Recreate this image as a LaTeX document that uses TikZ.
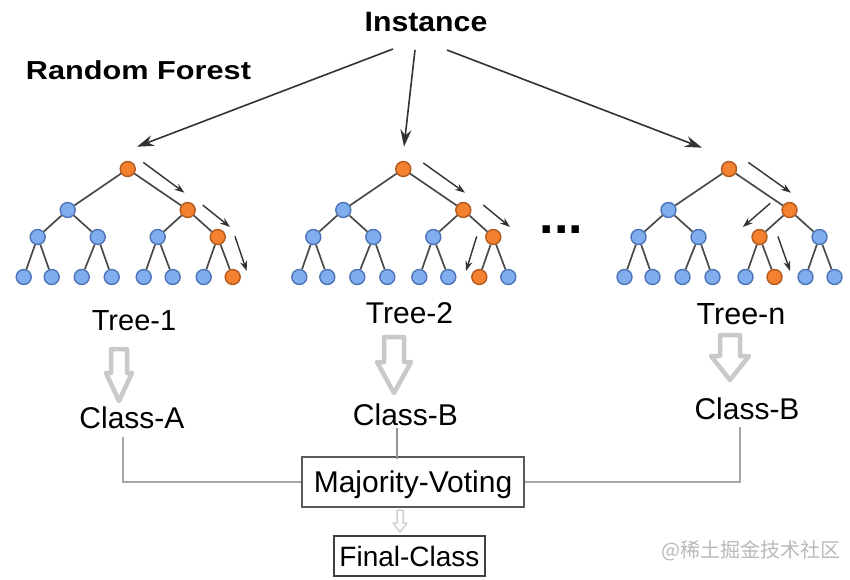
\documentclass[tikz,border=0pt]{standalone}
\usepackage{fontspec}
\usepackage{graphicx}
\setmainfont{Liberation Sans}
\newfontfamily\cjkfont{Noto Sans CJK SC}
\usetikzlibrary{arrows.meta}
\definecolor{orfill}{HTML}{F4812F}
\definecolor{ordraw}{HTML}{B35A1F}
\definecolor{blfill}{HTML}{80ADED}
\definecolor{bldraw}{HTML}{4D74B8}
\definecolor{edgec}{HTML}{4A4A4A}
\definecolor{blockc}{HTML}{C9C9C9}
\newcommand\fs[1]{\fontsize{#1}{#1}\selectfont}
\tikzset{
  tn/.style={circle, minimum size=15pt, inner sep=0pt, line width=1.4pt, draw=bldraw, fill=blfill},
  onode/.style={draw=ordraw, fill=orfill},
  tedge/.style={draw=edgec, line width=1.7pt},
  pathar/.style={draw=black!80, line width=1.4pt, -{Stealth[length=10pt,width=7pt]}},
  instar/.style={draw=black!80, line width=1.6pt, -{Stealth[length=17pt,width=11pt]}},
  lab/.style={inner sep=0pt, anchor=base},
  conn/.style={draw=gray!70, line width=2pt},
  blockar/.style={draw=blockc, line width=4.5pt, fill=white, line join=round},
  ta-r/.style=onode, ta-2/.style=onode, ta-22/.style=onode, ta-222/.style=onode,
  tb-r/.style=onode, tb-2/.style=onode, tb-22/.style=onode, tb-221/.style=onode,
  tc-r/.style=onode, tc-2/.style=onode, tc-21/.style=onode, tc-212/.style=onode,
}
% #1 prefix, #2 root x, #3 half spread of level 2
\newcommand\rftree[3]{%
\begin{scope}[shift={(#2,0)}]
\node[tn,#1-r/.try] (#1-r) at (0,169) {};
\node[tn,#1-1/.try] (#1-1) at (-#3,210) {};
\node[tn,#1-2/.try] (#1-2) at (#3,210) {};
\node[tn,#1-11/.try] (#1-11) at (-#3-30,237) {};
\node[tn,#1-12/.try] (#1-12) at (-#3+30,237) {};
\node[tn,#1-21/.try] (#1-21) at (#3-30,237) {};
\node[tn,#1-22/.try] (#1-22) at (#3+30,237) {};
\node[tn,#1-111/.try] (#1-111) at (-#3-44,277) {};
\node[tn,#1-112/.try] (#1-112) at (-#3-16,277) {};
\node[tn,#1-121/.try] (#1-121) at (-#3+14,277) {};
\node[tn,#1-122/.try] (#1-122) at (-#3+44,277) {};
\node[tn,#1-211/.try] (#1-211) at (#3-44,277) {};
\node[tn,#1-212/.try] (#1-212) at (#3-15,277) {};
\node[tn,#1-221/.try] (#1-221) at (#3+16,277) {};
\node[tn,#1-222/.try] (#1-222) at (#3+45,277) {};
\draw[tedge] (#1-r) -- (#1-1) (#1-r) -- (#1-2)
  (#1-1) -- (#1-11) (#1-1) -- (#1-12) (#1-2) -- (#1-21) (#1-2) -- (#1-22)
  (#1-11) -- (#1-111) (#1-11) -- (#1-112) (#1-12) -- (#1-121) (#1-12) -- (#1-122)
  (#1-21) -- (#1-211) (#1-21) -- (#1-212) (#1-22) -- (#1-221) (#1-22) -- (#1-222);
\end{scope}}
% block arrow: cx, top, headstart, tip, shaft half, head half
\newcommand\blockarrow[6]{%
\draw[blockar] (#1-#5,#2) -- (#1+#5,#2) -- (#1+#5,#3) -- (#1+#6,#3) -- (#1,#4) -- (#1-#6,#3) -- (#1-#5,#3) -- cycle;}
\begin{document}
\begin{tikzpicture}[x=1pt,y=-1pt]
\useasboundingbox[fill=white] (0,0) rectangle (850,580);
% titles
\node[lab, font=\fs{28}] (inst) at (426,32) {\scalebox{1.08}[1]{\bfseries Instance}};
\node[lab, font=\fs{26}] (rf) at (138.5,80) {\scalebox{1.18}[1]{\bfseries Random Forest}};
% trees
\rftree{ta}{127.7}{60}
\rftree{tb}{403.3}{60}
\rftree{tc}{729}{60.5}
% instance arrows
\draw[instar] ([shift={(-33,17)}]inst.base) -- ([shift={(9.3,-22.3)}]ta-r.center);
\draw[instar] ([shift={(-11,18)}]inst.base) -- ([shift={(0.7,-22.3)}]tb-r.center);
\draw[instar] ([shift={(21,18)}]inst.base) -- ([shift={(-27,-21.3)}]tc-r.center);
% path arrows tree 1
\draw[pathar] ([shift={(15.6,-6.6)}]ta-r.center) -- ([shift={(-3.3,-17.3)}]ta-2.center);
\draw[pathar] ([shift={(15,-5)}]ta-2.center) -- ([shift={(12.3,-10)}]ta-22.center);
\draw[pathar] ([shift={(17.3,-0.6)}]ta-22.center) -- ([shift={(14,-6)}]ta-222.center);
% path arrows tree 2
\draw[pathar] ([shift={(20,-6)}]tb-r.center) -- ([shift={(1.7,-17.3)}]tb-2.center);
\draw[pathar] ([shift={(20,-5)}]tb-2.center) -- ([shift={(16.7,-10)}]tb-22.center);
\draw[pathar] ([shift={(-16.6,-0.6)}]tb-22.center) -- ([shift={(-13.3,-6)}]tb-221.center);
% path arrows tree n
\draw[pathar] ([shift={(19.3,-6.6)}]tc-r.center) -- ([shift={(1.4,-17.3)}]tc-2.center);
\draw[pathar] ([shift={(-19.3,-6.7)}]tc-2.center) -- ([shift={(-16.6,-10)}]tc-21.center);
\draw[pathar] ([shift={(18.4,-0.6)}]tc-21.center) -- ([shift={(15.6,-6)}]tc-212.center);
% dots
\node[inner sep=0pt, font=\fs{52}\bfseries] (dots) at (561.5,230) {...};
% tree labels
\node[lab, font=\fs{29}] (t1) at (134,330) {Tree-1};
\node[lab, font=\fs{30}] (t2) at (409.5,323) {Tree-2};
\node[lab, font=\fs{30.5}] (tn) at (741,324) {Tree-n};
% block arrows
\blockarrow{119}{349}{373}{401}{8}{13}
\blockarrow{394}{337}{362}{393}{10}{17}
\blockarrow{730}{335}{356}{380}{10}{19}
% class labels
\node[lab, font=\fs{30}] (clA) at (132,428) {Class-A};
\node[lab, font=\fs{30}] (clBm) at (405.5,425) {Class-B};
\node[lab, font=\fs{30}] (clBr) at (747,419) {Class-B};
% majority voting and final class
\node[draw=black!65, line width=2pt, minimum width=222pt, minimum height=50pt, inner sep=0pt, text depth=0pt, font=\fs{30}] (mv) at (413,482) {Majority-Voting};
\node[draw=black!75, line width=1.5pt, minimum width=151pt, minimum height=40pt, inner sep=0pt, font=\fs{28}] (fc) at (409.5,556) {Final-Class};
\draw[conn] ([shift={(-9,9)}]clA.base) |- (mv.west);
\draw[conn, draw=gray!85] ([shift={(-9,3)}]clBm.base) -- ([shift={(-9,3)}]clBm.base |- mv.north);
\draw[conn] ([shift={(-7,8)}]clBr.base) |- (mv.east);
% small arrow
\draw[draw=gray!35, line width=1.5pt, fill=white, line join=round]
  ([xshift=-16pt,yshift=-2pt]mv.south) -- ([xshift=-10pt,yshift=-2pt]mv.south) -- ([xshift=-10pt,yshift=-15pt]mv.south) -- ([xshift=-6pt,yshift=-15pt]mv.south) -- ([xshift=-13pt,yshift=-24pt]mv.south) -- ([xshift=-20pt,yshift=-15pt]mv.south) -- ([xshift=-16pt,yshift=-15pt]mv.south) -- cycle;
% watermark
\node[inner sep=0pt, text=gray!55, font=\fs{20}\cjkfont] (wm) at (751,551) {@稀土掘金技术社区};
\end{tikzpicture}
\end{document}
